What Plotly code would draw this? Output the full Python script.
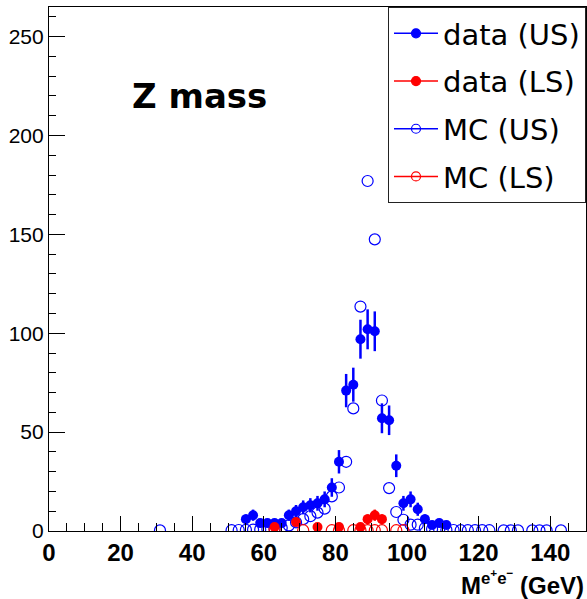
import numpy as np
import plotly.graph_objects as go

# ---- data ----
data_us_x = [55, 57, 59, 61, 63, 65, 67, 69, 71, 73, 75, 77, 79, 81, 83, 85, 87, 89, 91, 93, 95, 97, 99, 101, 103, 105, 107, 109, 111]
data_us_y = [6, 8, 4, 4, 4, 4, 8, 10, 12, 13, 14, 16, 22, 35, 71, 74, 97, 102, 101, 57, 56, 33, 14, 16, 11, 6, 3, 4, 3]

data_ls_x = [63, 69, 75, 81, 87, 89, 91, 93]
data_ls_y = [2, 4.5, 2, 2, 2, 6, 8, 6]

mc_us_x = [31, 51, 53, 55, 57, 59, 61, 63, 65, 67, 69, 71, 73, 75, 77, 79, 81, 83, 85, 87, 89, 91, 93, 95, 97, 99,
           101, 103, 105, 107, 109, 111, 113, 115, 117, 119, 121, 123, 127, 129, 131, 135, 137, 139, 143]
mc_us_y = [0.3, 0.4, 0.5, 0.6, 0.7, 0.8, 1.0, 1.2, 1.6, 2.8, 4.4, 6.0, 7.5, 9.3, 11.3, 17.5, 22, 35, 62, 113.5, 177, 147.5, 66, 21.7, 9.6, 5.7,
           3.2, 3.2, 1.5, 1.0, 0.8, 0.6, 0.5, 0.4, 0.4, 0.4, 0.4, 0.4, 0.3, 0.3, 0.3, 0.3, 0.3, 0.3, 0.3]

mc_ls_x = [63, 71, 79, 81, 85, 87, 89, 91, 93, 97, 99]
mc_ls_y = [1.0, 0.4, 0.4, 0.4, 0.4, 0.4, 0.4, 0.4, 0.4, 0.4, 0.4]

legend_names = ["data (US)", "data (LS)", "MC (US)", "MC (LS)"]
x_title = "M<sup>e<sup>+</sup>e<sup>\u2212</sup></sup> (GeV)"
label_text = "Z mass"

BLUE = "#0000ff"
RED = "#ff0000"
MS = 10

fig = go.Figure()

# MC first (drawn underneath)
fig.add_trace(go.Scatter(x=mc_us_x, y=mc_us_y, mode="markers", showlegend=False,
                         marker=dict(symbol="circle-open", size=MS + 1, color=BLUE, line=dict(width=1.2, color=BLUE))))
fig.add_trace(go.Scatter(x=mc_ls_x, y=mc_ls_y, mode="markers", showlegend=False,
                         marker=dict(symbol="circle-open", size=MS + 1, color=RED, line=dict(width=1.2, color=RED))))
# data with sqrt(N) errors
fig.add_trace(go.Scatter(x=data_us_x, y=data_us_y, mode="markers", showlegend=False,
                         marker=dict(symbol="circle", size=MS, color=BLUE),
                         error_y=dict(type="data", array=list(np.sqrt(data_us_y)), color=BLUE, thickness=2.5, width=0)))
fig.add_trace(go.Scatter(x=data_ls_x, y=data_ls_y, mode="markers", showlegend=False,
                         marker=dict(symbol="circle", size=MS, color=RED),
                         error_y=dict(type="data", array=list(np.sqrt(data_ls_y)), color=RED, thickness=2.5, width=0)))

# legend entries (line + marker style as in the reference)
leg_styles = [("circle", BLUE), ("circle", RED), ("circle-open", BLUE), ("circle-open", RED)]
for i, (name, (sym, col)) in enumerate(zip(legend_names, leg_styles)):
    fig.add_trace(go.Scatter(x=[None], y=[None], mode="lines+markers", name=name,
                             legendgroup=f"g{i}",
                             line=dict(color=col, width=1.5),
                             marker=dict(symbol=sym, size=9, color=col, line=dict(width=1.2, color=col))))

axis_common = dict(showgrid=False, zeroline=False, showline=True, linecolor="black", linewidth=1.2,
                   mirror=True, ticks="inside", tickcolor="black", tickwidth=1.2)

fig.update_xaxes(range=[0, 150], dtick=20, tick0=0, ticklen=15,
                 tickfont=dict(family="Liberation Sans", size=24, color="black", weight="bold"),
                 minor=dict(dtick=5, ticklen=8, ticks="inside", tickcolor="black", tickwidth=1.2),
                 **axis_common)
fig.update_yaxes(range=[0, 265], dtick=50, tick0=0, ticklen=16,
                 tickfont=dict(family="Liberation Sans", size=21, color="black"),
                 minor=dict(dtick=10, ticklen=7, ticks="inside", tickcolor="black", tickwidth=1.2),
                 **axis_common)

fig.add_annotation(text=x_title, xref="paper", yref="paper", x=1.0, y=-0.134,
                   xanchor="right", yanchor="bottom", showarrow=False,
                   font=dict(family="Liberation Sans", size=24, color="black", weight="bold"))
fig.add_annotation(text=label_text, xref="paper", yref="paper", x=0.2805, y=0.83,
                   xanchor="center", yanchor="middle", showarrow=False,
                   font=dict(family="DejaVu Sans", size=34, color="black", weight="bold"))

fig.update_layout(
    width=587, height=599,
    margin=dict(l=49, r=1, t=7, b=68, pad=0),
    paper_bgcolor="white", plot_bgcolor="white",
    legend=dict(x=1.0, y=1.0, xanchor="right", yanchor="top",
                bgcolor="white", bordercolor="#222222", borderwidth=1,
                font=dict(family="DejaVu Sans", size=29, color="black"),
                tracegroupgap=7, itemwidth=44,
                traceorder="grouped"),
)

fig.write_html("out.html")
